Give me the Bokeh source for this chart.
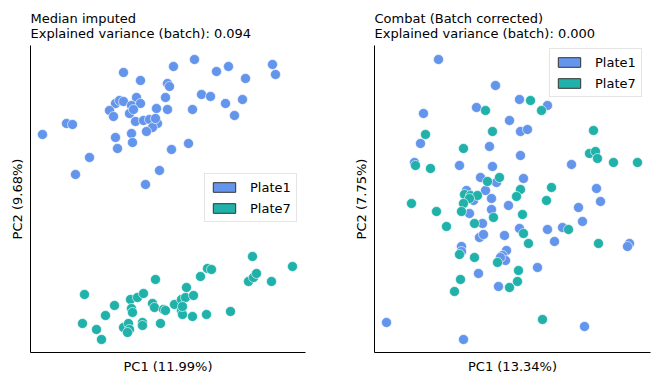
from bokeh.plotting import figure
from bokeh.layouts import row
from bokeh.models import Legend, LegendItem
from bokeh.embed import file_html
from bokeh.resources import INLINE

# ---- data ----
med_p1_x = [12, 36, 42, 45, 59, 93, 110, 85, 89, 93, 79, 83, 106, 101, 110, 99, 105, 113, 119, 126,
            127, 122, 116, 125, 103, 85, 87, 101, 102, 115, 129, 141, 135, 137, 139, 137, 143, 164,
            162, 158, 171, 180, 186, 198, 195, 204, 212, 215, 242, 245]
med_p1_y = [218, 229, 228, 178, 195, 280, 272, 249, 252, 251, 242, 236, 255, 247, 249, 239, 231, 232, 233, 244,
            229, 225, 221, 234, 243, 215, 204, 219, 210, 168, 182, 203, 255, 269, 266, 243, 286, 293,
            243, 209, 258, 256, 281, 286, 249, 237, 253, 274, 288, 278]
med_p7_x = [54, 52, 66, 71, 75, 84, 100, 107, 113, 101, 102, 93, 98, 99, 97, 112, 112, 125, 122, 124,
            133, 135, 130, 144, 151, 155, 163, 156, 151, 152, 152, 162, 176, 170, 177, 181, 200, 222,
            218, 223, 226, 241, 262]
med_p7_y = [58, 29, 23, 13, 37, 47, 53, 55, 59, 44, 40, 25, 29, 23, 20, 30, 27, 73, 49, 45,
            43, 42, 29, 48, 53, 55, 57, 65, 42, 38, 46, 36, 38, 76, 84, 83, 41, 96,
            71, 75, 79, 71, 86]

cb_p1_x = [64, 121, 145, 173, 102, 49, 135, 146, 153, 46, 115, 146, 40, 85, 118, 197, 106, 149, 122, 92,
           111, 222, 117, 226, 99, 134, 204, 117, 95, 108, 208, 173, 188, 145, 130, 105, 109, 180,
           87, 87, 132, 128, 131, 126, 163, 104, 124, 255, 253, 12, 89, 210]
cb_p1_y = [293, 267, 253, 247, 245, 239, 232, 221, 223, 209, 206, 197, 190, 187, 186, 188, 175, 174, 170, 162,
           162, 164, 154, 151, 152, 147, 145, 143, 139, 129, 131, 123, 125, 124, 117, 115, 118, 111,
           106, 101, 102, 97, 92, 95, 85, 79, 66, 109, 106, 30, 13, 26]
cb_p7_x = [156, 111, 167, 51, 118, 89, 219, 215, 221, 223, 41, 56, 239, 263, 113, 125, 177, 146, 142, 90,
           96, 103, 95, 172, 37, 62, 89, 87, 119, 148, 100, 72, 149, 154, 194, 224, 85, 100, 123,
           144, 86, 143, 135, 80, 168]
cb_p7_y = [252, 242, 242, 218, 221, 204, 222, 199, 201, 194, 187, 184, 190, 190, 171, 175, 165, 163, 156, 158,
           157, 157, 154, 152, 149, 141, 149, 141, 135, 138, 129, 126, 119, 109, 123, 109, 98, 95, 90,
           82, 73, 71, 65, 61, 33]

batches = ["Plate1", "Plate7"]
colors = ["#6495ED", "#20B2AA"]

panels = [
    dict(title="Median imputed\nExplained variance (batch): 0.094",
         xlabel="PC1 (11.99%)", ylabel="PC2 (9.68%)",
         data=[(med_p1_x, med_p1_y), (med_p7_x, med_p7_y)],
         xr=(0, 275), yr=(0, 307), legend_loc=(174, 130), ml=30, mr=39),
    dict(title="Combat (Batch corrected)\nExplained variance (batch): 0.000",
         xlabel="PC1 (13.34%)", ylabel="PC2 (7.75%)",
         data=[(cb_p1_x, cb_p1_y), (cb_p7_x, cb_p7_y)],
         xr=(0, 276), yr=(0, 307), legend_loc=(175, 255), ml=30, mr=1),
]

FONT = "DejaVu Sans"
NAN = float("nan")
figs = []
for pn in panels:
    p = figure(frame_width=pn["xr"][1] - pn["xr"][0], frame_height=307,
               x_range=pn["xr"], y_range=pn["yr"],
               output_backend="svg", toolbar_location=None,
               min_border_left=pn["ml"], min_border_right=pn["mr"],
               min_border_top=45, min_border_bottom=0)
    p.title.text = pn["title"]
    p.title.text_font = FONT
    p.title.text_font_size = "13px"
    p.title.text_font_style = "normal"
    p.title.text_color = "black"
    p.title.align = "left"
    p.title.offset = 0
    p.title.standoff = 9
    p.title.text_line_height = 1.0
    p.outline_line_color = None
    p.grid.visible = False
    for ax in (p.xaxis, p.yaxis):
        ax.ticker = []
        ax.major_tick_line_color = None
        ax.minor_tick_line_color = None
        ax.major_label_text_font_size = "0px"
        ax.axis_label_text_font = FONT
        ax.axis_label_text_font_size = "13px"
        ax.axis_label_text_font_style = "normal"
        ax.axis_label_text_color = "black"
        ax.axis_line_color = "black"
        ax.axis_line_width = 1
        ax.axis_label_standoff = 6
    p.xaxis.axis_label = pn["xlabel"]
    p.yaxis.axis_label = pn["ylabel"]

    items = []
    for (xs, ys), name, col in zip(pn["data"], batches, colors):
        p.scatter(xs, ys, size=10, fill_color=col, line_color="white", line_width=0.6)
        dummy = p.quad(left=[NAN], right=[NAN], top=[NAN], bottom=[NAN],
                       fill_color=col, line_color="#333333", line_width=1)
        items.append(LegendItem(label=name, renderers=[dummy]))
    leg = Legend(items=items, location=pn["legend_loc"],
                 label_text_font=FONT, label_text_font_size="13px", label_text_color="black",
                 glyph_width=28, glyph_height=12, label_standoff=12,
                 label_height=16, spacing=5, padding=5, margin=0,
                 border_line_color="#cccccc", border_line_width=1,
                 background_fill_color="white", background_fill_alpha=0.8)
    p.add_layout(leg, "center")
    figs.append(p)

layout = row(*figs)
open("out.html", "w").write(file_html(layout, INLINE))
